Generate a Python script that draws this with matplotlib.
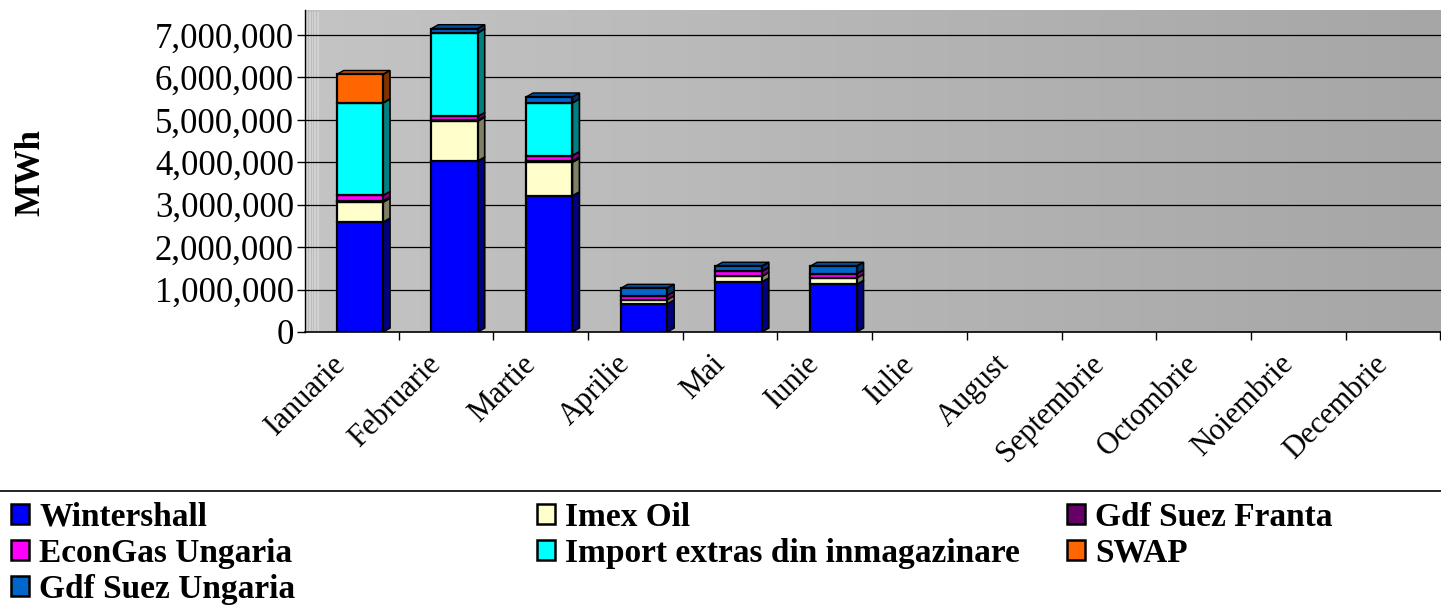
import numpy as np
import matplotlib
matplotlib.use("Agg")
import matplotlib.pyplot as plt
from matplotlib.patches import Polygon, Rectangle
from matplotlib.colors import to_rgb, LinearSegmentedColormap
from matplotlib.ticker import FuncFormatter

months = ["Ianuarie", "Februarie", "Martie", "Aprilie", "Mai", "Iunie", "Iulie",
          "August", "Septembrie", "Octombrie", "Noiembrie", "Decembrie"]
wintershall = [2590000, 4030000, 3210000, 660000, 1180000, 1120000, 0, 0, 0, 0, 0, 0]
imex_oil = [470000, 940000, 790000, 100000, 130000, 150000, 0, 0, 0, 0, 0, 0]
gdf_suez_franta = [30000, 20000, 30000, 0, 0, 0, 0, 0, 0, 0, 0, 0]
econgas = [130000, 90000, 130000, 100000, 120000, 100000, 0, 0, 0, 0, 0, 0]
import_extras = [2180000, 1970000, 1240000, 0, 0, 0, 0, 0, 0, 0, 0, 0]
swap = [670000, 0, 0, 0, 0, 0, 0, 0, 0, 0, 0, 0]
gdf_suez_ungaria = [0, 100000, 140000, 170000, 120000, 180000, 0, 0, 0, 0, 0, 0]

series = [
    ("Wintershall", wintershall, "#0000FF"),
    ("Imex Oil", imex_oil, "#FFFFCC"),
    ("Gdf Suez Franta", gdf_suez_franta, "#660066"),
    ("EconGas Ungaria", econgas, "#FF00FF"),
    ("Import extras din inmagazinare", import_extras, "#00FFFF"),
    ("SWAP", swap, "#FF6600"),
    ("Gdf Suez Ungaria", gdf_suez_ungaria, "#0066CC"),
]
yticks = [0, 1000000, 2000000, 3000000, 4000000, 5000000, 6000000, 7000000]

serif = ["Liberation Serif", "DejaVu Serif"]
plt.rcParams["font.family"] = serif

W, H = 1441, 610
fig = plt.figure(figsize=(W / 100, H / 100), dpi=100)
ax_left, ax_right, ax_top, ax_bot = 305, 1441, 10, 332
ax = fig.add_axes([ax_left / W, 1 - ax_bot / H, (ax_right - ax_left) / W, (ax_bot - ax_top) / H])

px_per_unit = 94.7
x0 = (ax_left - 351.3) / px_per_unit
x1 = (ax_right - 351.3) / px_per_unit
ymax = 7.59e6
ax.set_xlim(x0, x1)
ax.set_ylim(0, ymax)

# gradient back wall
grad = np.linspace(0, 1, 256)[None, :]
cmap = LinearSegmentedColormap.from_list("bg", ["#c4c4c4", "#a6a6a6"])
ax.imshow(grad, extent=[x0, x1, 0, ymax], aspect="auto", cmap=cmap, zorder=0)
# narrow side wall on the left
wall_w = 14 / px_per_unit
ax.add_patch(Rectangle((x0, 0), wall_w, ymax - 0.05e6, facecolor="#d2d2d2", edgecolor="none", zorder=0.5))
for k in range(1, 5):
    ax.axvline(x0 + wall_w * k / 5, color="#b8b8b8", lw=0.6, zorder=0.6)

for yv in yticks[1:]:
    ax.axhline(yv, color="black", lw=0.9, zorder=1)

bar_w = 0.49
shift = 0.09
dx = 7 / px_per_unit
dy = 4 * ymax / (ax_bot - ax_top)

def dark(c, f=0.5):
    r, g, b = to_rgb(c)
    return (r * f, g * f, b * f)

n = len(months)
bottom = np.zeros(n)
for name, vals, col in series:
    vals = np.array(vals, dtype=float)
    for i in range(n):
        v = vals[i]
        if v <= 0:
            continue
        xl = i + shift - bar_w / 2
        xr = xl + bar_w
        b, t = bottom[i], bottom[i] + v
        ax.add_patch(Rectangle((xl, b), bar_w, v, facecolor=col, edgecolor="black", lw=1.6, zorder=3))
        ax.add_patch(Polygon([(xr, b), (xr + dx, b + dy), (xr + dx, t + dy), (xr, t)], closed=True,
                             facecolor=dark(col), edgecolor="black", lw=1.2, zorder=2.9))
        ax.add_patch(Polygon([(xl, t), (xl + dx, t + dy), (xr + dx, t + dy), (xr, t)], closed=True,
                             facecolor=dark(col, 0.75), edgecolor="black", lw=1.0, zorder=2.8))
    bottom += vals

for s in ["top", "right"]:
    ax.spines[s].set_visible(False)
ax.spines["left"].set_color("black")
ax.spines["bottom"].set_color("black")
ax.spines["left"].set_linewidth(1.0)
ax.spines["bottom"].set_linewidth(1.2)

ax.set_yticks(yticks)
ax.yaxis.set_major_formatter(FuncFormatter(lambda v, p: f"{int(v):,}"))
ax.tick_params(axis="y", labelsize=25, length=6, width=1, pad=2, colors="black")

ax.set_xticks([i + 0.5 for i in range(n)])
ax.set_xticklabels([])
ax.tick_params(axis="x", which="major", length=6, width=1, direction="out")
label_shift = -0.1
ax.set_xticks([i + label_shift for i in range(n)], minor=True)
ax.set_xticklabels(months, minor=True, rotation=45, ha="right", va="center",
                   rotation_mode="anchor", fontsize=22)
ax.tick_params(axis="x", which="minor", length=0, pad=20)

fig.text(31 / W, 1 - 173 / H, "MWh", rotation=90, fontsize=25, fontweight="bold",
         ha="center", va="center")

# legend separator line
fig.add_artist(plt.Line2D([0, 1], [1 - 491 / H, 1 - 491 / H], color="black", lw=1.2,
                          transform=fig.transFigure))

handles = {name: Rectangle((0, 0), 1, 1, facecolor=col, edgecolor="black", lw=1.8)
           for name, _, col in series}
cols = [["Wintershall", "EconGas Ungaria", "Gdf Suez Ungaria"],
        ["Imex Oil", "Import extras din inmagazinare"],
        ["Gdf Suez Franta", "SWAP"]]
col_x = [11, 537, 1067]
for cx, names in zip(col_x, cols):
    fig.legend([handles[nm] for nm in names], names, loc="upper left",
               bbox_to_anchor=(cx / W, 1 - 502 / H), frameon=False,
               prop={"family": serif, "weight": "bold", "size": 24},
               handlelength=0.55, handleheight=0.55, handletextpad=0.3,
               labelspacing=0.15, borderpad=0, borderaxespad=0)

fig.savefig("out.png", dpi=100)
